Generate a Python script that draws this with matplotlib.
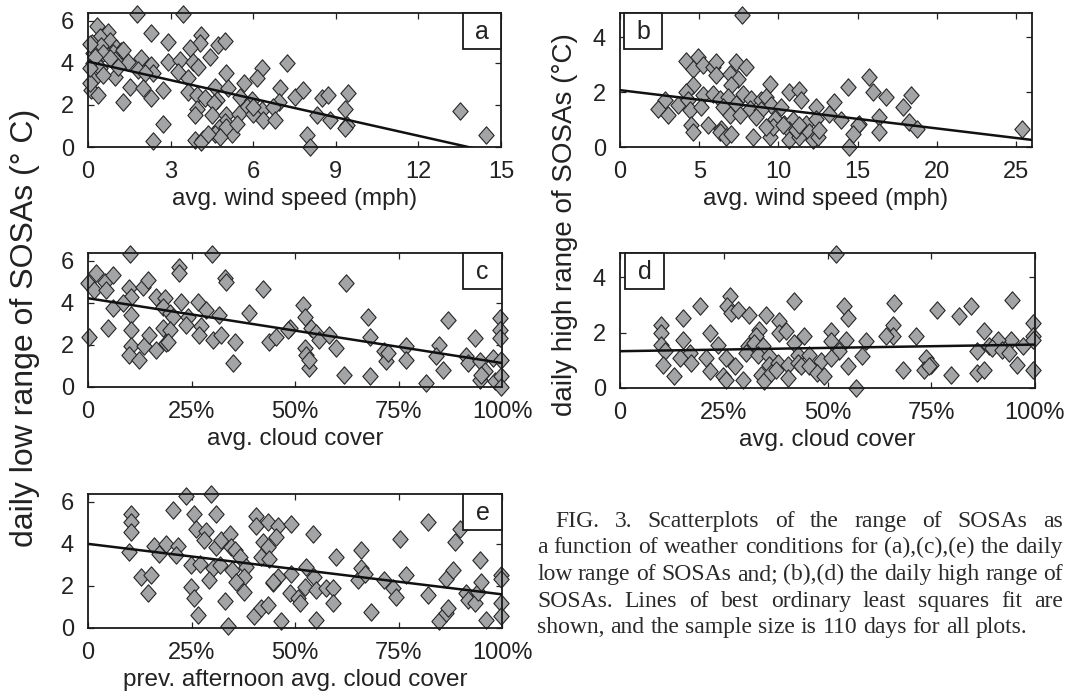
import numpy as np
import matplotlib.pyplot as plt
from matplotlib.patches import Rectangle
from matplotlib.path import Path

plt.rcParams['font.family'] = ['Liberation Sans', 'DejaVu Sans']

# (a) wind speed (mph) vs daily low range (deg C)
a_pts = [(1.79, 6.3), (3.46, 6.3), (0.33, 5.73), (0.73, 5.49), (0.42, 5.25), (0.16, 4.94), (0.79, 5.02),
         (0.48, 4.78), (1.03, 4.70), (1.21, 4.54), (0.91, 4.46), (0.19, 4.46), (0.55, 4.46), (2.30, 5.41),
         (2.91, 4.97), (4.12, 5.33), (4.06, 4.94), (3.70, 4.70), (4.73, 4.86), (4.97, 5.06), (1.94, 4.22),
         (1.46, 4.06), (0.97, 4.14), (0.18, 3.98), (0.42, 3.74), (2.91, 4.06), (3.33, 4.14), (3.82, 4.06),
         (4.00, 3.82), (4.43, 4.30), (2.30, 3.90), (1.82, 3.66), (2.36, 3.50), (2.06, 3.50), (3.27, 3.58),
         (3.64, 3.26), (5.03, 3.50), (6.31, 3.74), (7.21, 3.98), (6.12, 3.26), (0.18, 3.18), (0.97, 3.34),
         (1.52, 2.87), (2.00, 2.79), (2.73, 2.71), (0.12, 2.71), (0.36, 2.47), (1.27, 2.15), (2.30, 2.31),
         (3.64, 2.63), (3.95, 2.47), (4.25, 2.31), (4.62, 2.87), (4.68, 2.23), (5.10, 2.79), (5.65, 3.03),
         (5.53, 2.39), (5.95, 2.23), (6.98, 2.79), (6.92, 2.15), (7.52, 2.39), (7.82, 2.71), (8.49, 2.31),
         (8.73, 2.47), (9.46, 2.55), (3.95, 1.83), (4.56, 2.07), (5.77, 1.91), (6.31, 1.75), (6.73, 1.91),
         (9.34, 1.83), (13.52, 1.70), (3.89, 1.51), (4.49, 1.51), (5.03, 1.51), (5.47, 1.59), (6.01, 1.59),
         (6.37, 1.27), (6.80, 1.27), (8.31, 1.51), (8.80, 1.27), (9.40, 1.03), (9.34, 0.88), (2.73, 1.11),
         (4.98, 1.19), (4.74, 0.88), (4.62, 0.64), (5.22, 0.64), (5.03, 0.96), (7.95, 0.56), (8.07, 0.0),
         (2.36, 0.29), (3.89, 0.32), (4.19, 0.40), (14.47, 0.56), (4.12, 0.24), (4.80, 0.48), (4.37, 0.64),
         (5.40, 1.11), (6.01, 1.91), (0.06, 4.89), (0.24, 4.30), (0.79, 4.22), (1.27, 4.62), (0.06, 3.03),
         (0.55, 3.42), (0.06, 3.74), (1.09, 3.82)]

# (b) wind speed (mph) vs daily high range (deg C)
b_pts = [(7.70, 4.82), (4.19, 3.15), (4.93, 3.27), (4.61, 2.85), (5.24, 2.97), (5.87, 2.91), (6.08, 3.09),
         (6.08, 2.61), (6.92, 2.67), (7.34, 3.09), (7.97, 2.91), (7.44, 2.48), (7.02, 2.24), (4.61, 2.24),
         (4.19, 2.00), (9.44, 2.30), (14.37, 2.18), (15.73, 2.55), (15.94, 2.00), (16.78, 1.82),
         (18.35, 1.88), (17.83, 1.45), (10.69, 2.00), (11.32, 2.06), (11.43, 1.70), (2.83, 1.70),
         (2.41, 1.39), (3.04, 1.15), (3.67, 1.52), (4.29, 1.70), (5.24, 1.88), (5.87, 1.94), (6.29, 1.76),
         (6.82, 1.82), (7.76, 1.94), (8.28, 1.76), (8.91, 1.70), (9.23, 1.82), (9.54, 1.52), (4.40, 1.33),
         (5.14, 1.45), (6.50, 1.45), (7.34, 1.58), (8.18, 1.39), (8.91, 1.33), (10.17, 1.45), (12.37, 1.45),
         (13.53, 1.64), (16.36, 1.09), (18.24, 0.91), (18.77, 0.67), (6.92, 1.15), (7.55, 1.15),
         (8.60, 1.09), (9.76, 1.03), (10.38, 0.85), (10.90, 0.97), (11.74, 0.85), (12.37, 1.03),
         (13.21, 1.21), (13.95, 0.97), (15.10, 0.85), (15.00, 0.79), (4.51, 0.79), (4.61, 0.55),
         (5.56, 0.79), (6.39, 0.67), (6.29, 0.55), (6.71, 0.36), (7.02, 0.48), (8.39, 0.36), (9.44, 0.36),
         (9.65, 0.73), (10.69, 0.61), (10.69, 0.24), (11.32, 0.36), (11.11, 0.61), (11.95, 0.55),
         (12.16, 0.24), (12.47, 0.36), (12.58, 0.61), (14.68, 0.48), (14.47, 0.00), (25.38, 0.67),
         (16.36, 0.55), (10.27, 0.79), (11.32, 0.79), (9.23, 0.73)]

# (c) cloud cover (%) vs daily low range
c_pts = [(10.2, 6.32), (30.0, 6.32), (0.0, 4.93), (2.0, 5.40), (1.5, 4.61), (4.0, 5.01), (6.0, 5.32),
         (4.4, 4.61), (10.0, 4.69), (10.4, 4.30), (13.2, 4.77), (14.4, 5.09), (22.1, 5.72), (22.1, 5.40),
         (33.0, 5.17), (33.4, 5.01), (42.2, 4.64), (62.2, 4.93), (6.0, 3.74), (8.4, 3.98), (16.4, 4.30),
         (18.5, 4.22), (18.0, 3.82), (22.5, 4.06), (26.5, 4.06), (28.5, 3.67), (19.7, 3.51), (20.5, 3.35),
         (24.1, 3.35), (10.4, 3.43), (31.7, 3.43), (39.0, 3.54), (51.9, 3.90), (52.5, 3.35), (67.6, 3.35),
         (86.9, 3.19), (99.6, 3.27), (0.3, 2.40), (4.8, 2.80), (10.4, 2.72), (18.0, 2.80), (19.7, 2.72),
         (23.7, 2.95), (27.3, 2.88), (26.9, 2.48), (30.1, 2.24), (32.2, 2.48), (35.4, 2.16), (43.8, 2.16),
         (45.4, 2.40), (48.7, 2.80), (48.3, 2.72), (53.9, 2.80), (55.1, 2.56), (55.9, 2.24), (58.3, 2.48),
         (60.0, 1.85), (68.0, 2.40), (71.6, 1.69), (76.9, 1.93), (84.9, 2.01), (93.4, 2.32), (99.6, 2.72),
         (99.6, 2.32), (10.4, 1.93), (10.0, 1.53), (12.4, 1.30), (13.6, 1.93), (14.8, 2.48), (16.4, 1.77),
         (18.9, 2.09), (19.3, 2.16), (35.0, 1.14), (52.3, 1.85), (52.7, 1.53), (53.5, 0.90), (53.5, 1.30),
         (72.0, 1.22), (72.4, 1.61), (76.9, 1.30), (84.1, 1.45), (85.7, 0.82), (91.4, 1.45), (91.8, 1.14),
         (94.6, 1.22), (97.8, 1.37), (99.8, 1.30), (61.9, 0.58), (68.0, 0.54), (81.7, 0.19), (94.6, 0.35),
         (98.2, 0.27), (99.8, 0.51), (99.8, 0.0), (95.8, 0.74), (95.0, 0.58)]

# (d) cloud cover (%) vs daily high range
d_pts = [(52.0, 4.86), (26.4, 3.31), (25.9, 2.95), (26.7, 2.71), (28.4, 2.83), (31.2, 2.65), (35.2, 2.65),
         (19.2, 2.95), (15.2, 2.53), (42.0, 3.13), (54.0, 2.95), (54.9, 2.53), (66.1, 3.07), (76.5, 2.83),
         (81.7, 2.59), (84.5, 2.95), (94.5, 3.19), (9.9, 2.29), (9.9, 1.99), (21.6, 1.99), (38.4, 2.41),
         (38.4, 1.99), (40.0, 2.05), (44.4, 1.87), (33.6, 2.11), (32.8, 1.87), (50.8, 2.05), (65.7, 2.29),
         (65.7, 1.87), (64.1, 1.87), (71.3, 1.87), (87.7, 2.05), (99.4, 2.35), (99.4, 1.87), (94.1, 1.75),
         (91.0, 1.75), (89.0, 1.51), (9.9, 1.57), (15.2, 1.75), (23.6, 1.57), (30.8, 1.51), (32.4, 1.63),
         (34.4, 1.51), (42.0, 1.63), (50.8, 1.69), (54.5, 1.75), (59.3, 1.69), (89.7, 1.45), (92.1, 1.39),
         (97.0, 1.51), (99.4, 1.75), (10.8, 1.33), (16.8, 1.27), (25.6, 1.08), (30.4, 1.27), (33.2, 1.20),
         (36.0, 1.14), (42.8, 1.20), (45.6, 1.20), (52.7, 1.33), (58.4, 1.14), (73.7, 1.08), (86.1, 1.33),
         (93.7, 1.27), (10.3, 0.84), (14.4, 1.08), (17.2, 0.90), (20.8, 1.08), (21.6, 0.60), (36.0, 0.84),
         (38.0, 0.90), (40.4, 0.84), (42.8, 0.90), (43.6, 0.78), (45.6, 0.78), (48.4, 0.96), (50.8, 1.08),
         (54.9, 0.81), (74.9, 0.84), (95.7, 0.84), (13.1, 0.42), (24.8, 0.42), (25.6, 0.30), (29.6, 0.30),
         (34.0, 0.48), (34.8, 0.24), (36.5, 0.54), (37.6, 0.66), (40.4, 0.36), (47.5, 0.54), (49.1, 0.42),
         (68.1, 0.66), (73.2, 0.66), (74.5, 0.78), (79.7, 0.48), (86.1, 0.54), (87.7, 0.66), (99.4, 0.66),
         (56.9, 0.0), (27.6, 0.78)]

# (e) previous afternoon cloud cover (%) vs daily low range
e_pts = [(23.7, 6.28), (29.7, 6.36), (20.5, 5.60), (25.7, 5.42), (30.9, 5.42), (10.4, 5.42), (10.4, 5.02),
         (10.4, 4.55), (10.0, 3.61), (16.0, 3.92), (18.9, 4.00), (21.7, 3.92), (17.2, 3.53), (21.3, 3.45),
         (26.1, 4.71), (28.5, 4.63), (28.1, 4.16), (30.9, 3.85), (32.2, 4.16), (34.2, 4.47), (34.6, 3.85),
         (35.4, 3.69), (36.6, 3.38), (24.9, 2.98), (27.1, 3.06), (30.3, 2.83), (32.0, 2.98), (34.9, 2.75),
         (38.2, 2.90), (37.8, 2.43), (35.8, 2.20), (12.8, 2.43), (15.2, 2.51), (14.4, 1.65), (29.3, 2.28),
         (24.9, 1.96), (25.7, 1.41), (26.5, 0.63), (37.8, 1.73), (33.0, 1.26), (33.8, 0.08), (40.6, 5.34),
         (40.6, 4.87), (43.4, 5.02), (45.8, 4.87), (49.1, 4.94), (45.5, 4.32), (42.2, 4.08), (43.4, 3.85),
         (41.8, 3.38), (43.8, 3.30), (54.3, 4.47), (60.0, 3.38), (66.0, 3.69), (75.3, 4.24), (82.1, 5.02),
         (89.8, 4.71), (88.6, 4.08), (49.1, 2.59), (52.7, 2.90), (54.7, 2.43), (45.8, 2.43), (44.6, 2.12),
         (48.7, 1.65), (50.7, 1.41), (51.1, 1.18), (52.3, 1.96), (55.1, 1.81), (57.5, 1.88), (59.1, 1.88),
         (59.1, 1.18), (65.2, 2.28), (66.0, 2.83), (66.8, 2.59), (71.6, 2.28), (73.7, 1.88), (74.5, 1.49),
         (76.9, 2.51), (82.1, 1.57), (86.5, 2.35), (88.2, 2.75), (91.4, 1.65), (91.8, 1.33), (93.4, 1.18),
         (94.2, 1.73), (95.0, 2.20), (94.6, 3.22), (99.8, 2.51), (99.8, 2.35), (99.8, 1.18), (99.8, 0.55),
         (96.2, 0.39), (84.9, 0.31), (86.5, 0.71), (86.9, 0.94), (68.4, 0.78), (55.1, 0.39), (46.7, 0.31),
         (40.1, 0.55), (41.8, 0.94), (43.4, 1.10), (44.6, 2.20)]

# least squares lines: (intercept, slope)
fit_a = (4.06, -0.294)
fit_b = (2.07, -0.0697)
fit_c = (4.22, -0.0308)
fit_d = (1.33, 0.0024)
fit_e = (4.00, -0.0240)

wind_ticks_a = [0, 3, 6, 9, 12, 15]
wind_ticks_b = [0, 5, 10, 15, 20, 25]
pct_ticks = [0, 25, 50, 75, 100]
pct_labels = ['0', '25%', '50%', '75%', '100%']

caption = ["FIG. 3. Scatterplots of the range of SOSAs as",
           "a function of weather conditions for (a),(c),(e) the daily",
           "low range of SOSAs and; (b),(d) the daily high range of",
           "SOSAs. Lines of best ordinary least squares fit are",
           "shown, and the sample size is 110 days for all plots."]

W, H = 1069, 697
fig = plt.figure(figsize=(W / 100, H / 100), dpi=100)

diamond = Path([(0, 0.5), (0.44, 0), (0, -0.5), (-0.44, 0), (0, 0.5)], closed=True)


def px_rect(l, t, r, b):
    return [l / W, 1 - b / H, (r - l) / W, (b - t) / H]


def panel(rect, pts, fit, xlim, ylim, xticks, xlabels, yticks, xlabel, letter, box_x):
    ax = fig.add_axes(rect)
    x, y = np.array(pts).T
    ax.plot(x, y, ls='none', marker=diamond, ms=12.5, mfc='#a3a4a6', mec='#262626',
            mew=0.8, clip_on=False, zorder=2)
    xx = np.array(xlim, dtype=float)
    ax.plot(xx, fit[0] + fit[1] * xx, color='#111111', lw=1.8, zorder=3)
    ax.set_xlim(xlim)
    ax.set_ylim(ylim)
    ax.set_xticks(xticks)
    ax.set_xticklabels(xlabels)
    ax.set_yticks(yticks)
    ax.tick_params(direction='in', top=True, right=True, length=4, width=0.9,
                   labelsize=17, pad=10, colors='#222222')
    for s in ax.spines.values():
        s.set_linewidth(1.3)
        s.set_color('#1a1a1a')
    ax.set_xlabel(xlabel, fontsize=17.5, labelpad=4, color='#222222')
    ax.add_patch(Rectangle((box_x, 0.735), 0.093, 0.265, transform=ax.transAxes,
                           fill=True, fc='white', ec='#1a1a1a', lw=1.3, zorder=5, clip_on=False))
    ax.text(box_x + 0.0465, 0.86, letter, transform=ax.transAxes, ha='center', va='center',
            fontsize=18, zorder=6, color='#222222')
    return ax


panel(px_rect(88, 13, 501, 147), a_pts, fit_a, (0, 15), (0, 6.37), wind_ticks_a,
      [str(t) for t in wind_ticks_a], [0, 2, 4, 6], 'avg. wind speed (mph)', 'a', 0.907)
panel(px_rect(620, 13, 1032, 147), b_pts, fit_b, (0, 26), (0, 4.88), wind_ticks_b,
      [str(t) for t in wind_ticks_b], [0, 2, 4], 'avg. wind speed (mph)', 'b', 0.01)
panel(px_rect(88, 253, 502, 387), c_pts, fit_c, (0, 100), (0, 6.37), pct_ticks,
      pct_labels, [0, 2, 4, 6], 'avg. cloud cover', 'c', 0.907)
panel(px_rect(620, 253, 1035, 388), d_pts, fit_d, (0, 100), (0, 4.88), pct_ticks,
      pct_labels, [0, 2, 4], 'avg. cloud cover', 'd', 0.013)
panel(px_rect(88, 494, 502, 628), e_pts, fit_e, (0, 100), (0, 6.37), pct_ticks,
      pct_labels, [0, 2, 4, 6], 'prev. afternoon avg. cloud cover', 'e', 0.907)

fig.text(25 / W, 1 - 328 / H, 'daily low range of SOSAs (° C)', rotation=90,
         ha='center', va='center', fontsize=23, color='#222222')
fig.text(565 / W, 1 - 225 / H, 'daily high range of SOSAs (°C)', rotation=90,
         ha='center', va='center', fontsize=20, color='#222222')

# caption, justified by hand
fig.canvas.draw()
rend = fig.canvas.get_renderer()
cap_kw = dict(fontsize=17, family='Liberation Serif', color='#2a2a2a', va='baseline')
left, right = 537, 1063
base_y = [527, 553, 580, 607, 633]


def width_of(s):
    t = fig.text(0, 0, s, **cap_kw)
    w = t.get_window_extent(rend).width
    t.remove()
    return w


space = width_of('a b') - width_of('ab')
for i, line in enumerate(caption):
    x0 = left + (18 if i == 0 else 0)
    words = line.split(' ')
    widths = [width_of(w) for w in words]
    if i < len(caption) - 1:
        gap = max((right - x0 - sum(widths)) / (len(words) - 1), 0.45 * space)
    else:
        gap = space
    x = x0
    for w, wd in zip(words, widths):
        fig.text(x / W, 1 - base_y[i] / H, w, **cap_kw)
        x += wd + gap

fig.savefig('out.png', dpi=100)
